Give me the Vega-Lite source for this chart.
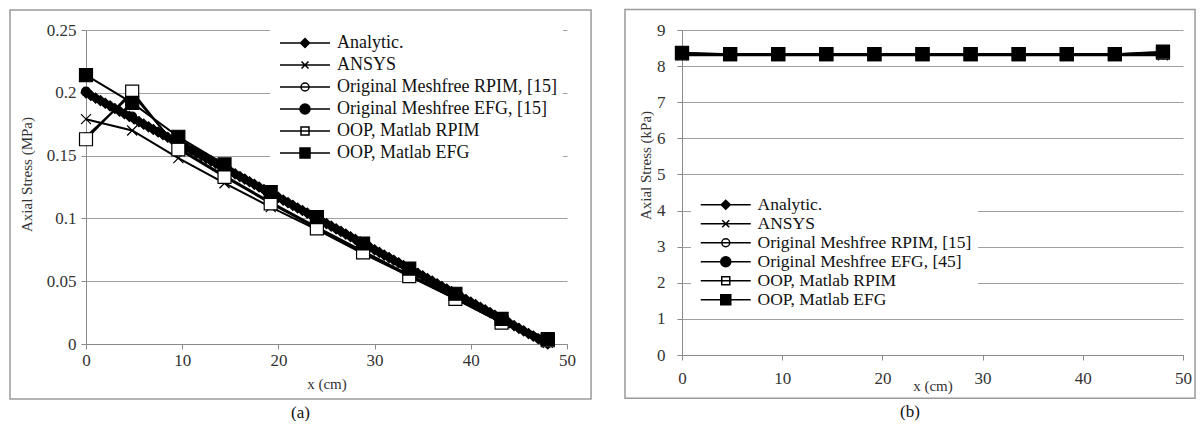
{
  "$schema": "https://vega.github.io/schema/vega-lite/v6.json",
  "background": "white",
  "padding": {"left": 9, "top": 8, "right": 5, "bottom": 0},
  "spacing": 32,
  "config": {
    "view": {"stroke": null},
    "font": "Liberation Serif",
    "axis": {
      "labelFont": "Liberation Serif", "titleFont": "Liberation Serif",
      "labelFontSize": 17, "titleFontSize": 15, "titleFontWeight": "normal",
      "labelColor": "#333333", "titleColor": "#333333",
      "domainColor": "#8a8a8a", "tickColor": "#8a8a8a", "gridColor": "#a0a0a0",
      "domainWidth": 1, "gridWidth": 1, "tickSize": 5, "labelPadding": 3,
      "labelFlush": false, "labelOverlap": false
    },
    "legend": {
      "labelFont": "Liberation Serif", "labelColor": "#111111", "labelLimit": 500,
      "fillColor": "white", "zindex": 3, "symbolSize": 100, "symbolOpacity": 1,
      "symbolOffset": 20, "labelOffset": 23
    }
  },
  "datasets": {
    "a": [
      {"s": "Analytic.", "x": 0, "y": 0.2}, {"s": "Analytic.", "x": 0.5, "y": 0.1979}, {"s": "Analytic.", "x": 1, "y": 0.1958}, {"s": "Analytic.", "x": 1.5, "y": 0.1938}, {"s": "Analytic.", "x": 2, "y": 0.1917}, {"s": "Analytic.", "x": 2.5, "y": 0.1896}, {"s": "Analytic.", "x": 3, "y": 0.1875}, {"s": "Analytic.", "x": 3.5, "y": 0.1854}, {"s": "Analytic.", "x": 4, "y": 0.1833}, {"s": "Analytic.", "x": 4.5, "y": 0.1813}, {"s": "Analytic.", "x": 5, "y": 0.1792}, {"s": "Analytic.", "x": 5.5, "y": 0.1771}, {"s": "Analytic.", "x": 6, "y": 0.175}, {"s": "Analytic.", "x": 6.5, "y": 0.1729}, {"s": "Analytic.", "x": 7, "y": 0.1708}, {"s": "Analytic.", "x": 7.5, "y": 0.1688}, {"s": "Analytic.", "x": 8, "y": 0.1667}, {"s": "Analytic.", "x": 8.5, "y": 0.1646}, {"s": "Analytic.", "x": 9, "y": 0.1625}, {"s": "Analytic.", "x": 9.5, "y": 0.1604}, {"s": "Analytic.", "x": 10, "y": 0.1583}, {"s": "Analytic.", "x": 10.5, "y": 0.1563}, {"s": "Analytic.", "x": 11, "y": 0.1542}, {"s": "Analytic.", "x": 11.5, "y": 0.1521}, {"s": "Analytic.", "x": 12, "y": 0.15}, {"s": "Analytic.", "x": 12.5, "y": 0.1479}, {"s": "Analytic.", "x": 13, "y": 0.1458}, {"s": "Analytic.", "x": 13.5, "y": 0.1438}, {"s": "Analytic.", "x": 14, "y": 0.1417}, {"s": "Analytic.", "x": 14.5, "y": 0.1396}, {"s": "Analytic.", "x": 15, "y": 0.1375}, {"s": "Analytic.", "x": 15.5, "y": 0.1354}, {"s": "Analytic.", "x": 16, "y": 0.1333}, {"s": "Analytic.", "x": 16.5, "y": 0.1313}, {"s": "Analytic.", "x": 17, "y": 0.1292}, {"s": "Analytic.", "x": 17.5, "y": 0.1271}, {"s": "Analytic.", "x": 18, "y": 0.125}, {"s": "Analytic.", "x": 18.5, "y": 0.1229}, {"s": "Analytic.", "x": 19, "y": 0.1208}, {"s": "Analytic.", "x": 19.5, "y": 0.1188}, {"s": "Analytic.", "x": 20, "y": 0.1167}, {"s": "Analytic.", "x": 20.5, "y": 0.1146}, {"s": "Analytic.", "x": 21, "y": 0.1125}, {"s": "Analytic.", "x": 21.5, "y": 0.1104}, {"s": "Analytic.", "x": 22, "y": 0.1083}, {"s": "Analytic.", "x": 22.5, "y": 0.1063}, {"s": "Analytic.", "x": 23, "y": 0.1042}, {"s": "Analytic.", "x": 23.5, "y": 0.1021}, {"s": "Analytic.", "x": 24, "y": 0.1}, {"s": "Analytic.", "x": 24.5, "y": 0.0979}, {"s": "Analytic.", "x": 25, "y": 0.0958}, {"s": "Analytic.", "x": 25.5, "y": 0.0938}, {"s": "Analytic.", "x": 26, "y": 0.0917}, {"s": "Analytic.", "x": 26.5, "y": 0.0896}, {"s": "Analytic.", "x": 27, "y": 0.0875}, {"s": "Analytic.", "x": 27.5, "y": 0.0854}, {"s": "Analytic.", "x": 28, "y": 0.0833}, {"s": "Analytic.", "x": 28.5, "y": 0.0813}, {"s": "Analytic.", "x": 29, "y": 0.0792}, {"s": "Analytic.", "x": 29.5, "y": 0.0771}, {"s": "Analytic.", "x": 30, "y": 0.075}, {"s": "Analytic.", "x": 30.5, "y": 0.0729}, {"s": "Analytic.", "x": 31, "y": 0.0708}, {"s": "Analytic.", "x": 31.5, "y": 0.0688}, {"s": "Analytic.", "x": 32, "y": 0.0667}, {"s": "Analytic.", "x": 32.5, "y": 0.0646}, {"s": "Analytic.", "x": 33, "y": 0.0625}, {"s": "Analytic.", "x": 33.5, "y": 0.0604}, {"s": "Analytic.", "x": 34, "y": 0.0583}, {"s": "Analytic.", "x": 34.5, "y": 0.0563}, {"s": "Analytic.", "x": 35, "y": 0.0542}, {"s": "Analytic.", "x": 35.5, "y": 0.0521}, {"s": "Analytic.", "x": 36, "y": 0.05}, {"s": "Analytic.", "x": 36.5, "y": 0.0479}, {"s": "Analytic.", "x": 37, "y": 0.0458}, {"s": "Analytic.", "x": 37.5, "y": 0.0438}, {"s": "Analytic.", "x": 38, "y": 0.0417}, {"s": "Analytic.", "x": 38.5, "y": 0.0396}, {"s": "Analytic.", "x": 39, "y": 0.0375}, {"s": "Analytic.", "x": 39.5, "y": 0.0354}, {"s": "Analytic.", "x": 40, "y": 0.0333}, {"s": "Analytic.", "x": 40.5, "y": 0.0313}, {"s": "Analytic.", "x": 41, "y": 0.0292}, {"s": "Analytic.", "x": 41.5, "y": 0.0271}, {"s": "Analytic.", "x": 42, "y": 0.025}, {"s": "Analytic.", "x": 42.5, "y": 0.0229}, {"s": "Analytic.", "x": 43, "y": 0.0208}, {"s": "Analytic.", "x": 43.5, "y": 0.0188}, {"s": "Analytic.", "x": 44, "y": 0.0167}, {"s": "Analytic.", "x": 44.5, "y": 0.0146}, {"s": "Analytic.", "x": 45, "y": 0.0125}, {"s": "Analytic.", "x": 45.5, "y": 0.0104}, {"s": "Analytic.", "x": 46, "y": 0.0083}, {"s": "Analytic.", "x": 46.5, "y": 0.0063}, {"s": "Analytic.", "x": 47, "y": 0.0042}, {"s": "Analytic.", "x": 47.5, "y": 0.0021}, {"s": "Analytic.", "x": 48, "y": 0.0},
      {"s": "ANSYS", "x": 0, "y": 0.179}, {"s": "ANSYS", "x": 4.8, "y": 0.17}, {"s": "ANSYS", "x": 9.6, "y": 0.148}, {"s": "ANSYS", "x": 14.4, "y": 0.128}, {"s": "ANSYS", "x": 19.2, "y": 0.109}, {"s": "ANSYS", "x": 24, "y": 0.091}, {"s": "ANSYS", "x": 28.8, "y": 0.072}, {"s": "ANSYS", "x": 33.6, "y": 0.054}, {"s": "ANSYS", "x": 38.4, "y": 0.036}, {"s": "ANSYS", "x": 43.2, "y": 0.017}, {"s": "ANSYS", "x": 48, "y": 0.001},
      {"s": "Original Meshfree RPIM, [15]", "x": 0, "y": 0.165}, {"s": "Original Meshfree RPIM, [15]", "x": 4.8, "y": 0.199}, {"s": "Original Meshfree RPIM, [15]", "x": 9.6, "y": 0.156}, {"s": "Original Meshfree RPIM, [15]", "x": 14.4, "y": 0.134}, {"s": "Original Meshfree RPIM, [15]", "x": 19.2, "y": 0.113}, {"s": "Original Meshfree RPIM, [15]", "x": 24, "y": 0.093}, {"s": "Original Meshfree RPIM, [15]", "x": 28.8, "y": 0.074}, {"s": "Original Meshfree RPIM, [15]", "x": 33.6, "y": 0.055}, {"s": "Original Meshfree RPIM, [15]", "x": 38.4, "y": 0.037}, {"s": "Original Meshfree RPIM, [15]", "x": 43.2, "y": 0.018}, {"s": "Original Meshfree RPIM, [15]", "x": 48, "y": 0.003},
      {"s": "Original Meshfree EFG, [15]", "x": 0, "y": 0.201}, {"s": "Original Meshfree EFG, [15]", "x": 4.8, "y": 0.181}, {"s": "Original Meshfree EFG, [15]", "x": 9.6, "y": 0.161}, {"s": "Original Meshfree EFG, [15]", "x": 14.4, "y": 0.141}, {"s": "Original Meshfree EFG, [15]", "x": 19.2, "y": 0.121}, {"s": "Original Meshfree EFG, [15]", "x": 24, "y": 0.101}, {"s": "Original Meshfree EFG, [15]", "x": 28.8, "y": 0.081}, {"s": "Original Meshfree EFG, [15]", "x": 33.6, "y": 0.061}, {"s": "Original Meshfree EFG, [15]", "x": 38.4, "y": 0.04}, {"s": "Original Meshfree EFG, [15]", "x": 43.2, "y": 0.02}, {"s": "Original Meshfree EFG, [15]", "x": 48, "y": 0.001},
      {"s": "OOP, Matlab RPIM", "x": 0, "y": 0.163}, {"s": "OOP, Matlab RPIM", "x": 4.8, "y": 0.201}, {"s": "OOP, Matlab RPIM", "x": 9.6, "y": 0.155}, {"s": "OOP, Matlab RPIM", "x": 14.4, "y": 0.133}, {"s": "OOP, Matlab RPIM", "x": 19.2, "y": 0.112}, {"s": "OOP, Matlab RPIM", "x": 24, "y": 0.092}, {"s": "OOP, Matlab RPIM", "x": 28.8, "y": 0.073}, {"s": "OOP, Matlab RPIM", "x": 33.6, "y": 0.054}, {"s": "OOP, Matlab RPIM", "x": 38.4, "y": 0.036}, {"s": "OOP, Matlab RPIM", "x": 43.2, "y": 0.017}, {"s": "OOP, Matlab RPIM", "x": 48, "y": 0.003},
      {"s": "OOP, Matlab EFG", "x": 0, "y": 0.214}, {"s": "OOP, Matlab EFG", "x": 4.8, "y": 0.192}, {"s": "OOP, Matlab EFG", "x": 9.6, "y": 0.165}, {"s": "OOP, Matlab EFG", "x": 14.4, "y": 0.143}, {"s": "OOP, Matlab EFG", "x": 19.2, "y": 0.121}, {"s": "OOP, Matlab EFG", "x": 24, "y": 0.101}, {"s": "OOP, Matlab EFG", "x": 28.8, "y": 0.08}, {"s": "OOP, Matlab EFG", "x": 33.6, "y": 0.06}, {"s": "OOP, Matlab EFG", "x": 38.4, "y": 0.04}, {"s": "OOP, Matlab EFG", "x": 43.2, "y": 0.02}, {"s": "OOP, Matlab EFG", "x": 48, "y": 0.004}
    ],
    "b": [
      {"s": "Analytic.", "x": 0, "y": 8.33}, {"s": "Analytic.", "x": 4.8, "y": 8.33}, {"s": "Analytic.", "x": 9.6, "y": 8.33}, {"s": "Analytic.", "x": 14.4, "y": 8.33}, {"s": "Analytic.", "x": 19.2, "y": 8.33}, {"s": "Analytic.", "x": 24, "y": 8.33}, {"s": "Analytic.", "x": 28.8, "y": 8.33}, {"s": "Analytic.", "x": 33.6, "y": 8.33}, {"s": "Analytic.", "x": 38.4, "y": 8.33}, {"s": "Analytic.", "x": 43.2, "y": 8.33}, {"s": "Analytic.", "x": 48, "y": 8.33},
      {"s": "ANSYS", "x": 0, "y": 8.3}, {"s": "ANSYS", "x": 4.8, "y": 8.3}, {"s": "ANSYS", "x": 9.6, "y": 8.3}, {"s": "ANSYS", "x": 14.4, "y": 8.3}, {"s": "ANSYS", "x": 19.2, "y": 8.3}, {"s": "ANSYS", "x": 24, "y": 8.3}, {"s": "ANSYS", "x": 28.8, "y": 8.3}, {"s": "ANSYS", "x": 33.6, "y": 8.3}, {"s": "ANSYS", "x": 38.4, "y": 8.3}, {"s": "ANSYS", "x": 43.2, "y": 8.3}, {"s": "ANSYS", "x": 48, "y": 8.3},
      {"s": "Original Meshfree RPIM, [15]", "x": 0, "y": 8.34}, {"s": "Original Meshfree RPIM, [15]", "x": 4.8, "y": 8.33}, {"s": "Original Meshfree RPIM, [15]", "x": 9.6, "y": 8.33}, {"s": "Original Meshfree RPIM, [15]", "x": 14.4, "y": 8.33}, {"s": "Original Meshfree RPIM, [15]", "x": 19.2, "y": 8.33}, {"s": "Original Meshfree RPIM, [15]", "x": 24, "y": 8.33}, {"s": "Original Meshfree RPIM, [15]", "x": 28.8, "y": 8.33}, {"s": "Original Meshfree RPIM, [15]", "x": 33.6, "y": 8.33}, {"s": "Original Meshfree RPIM, [15]", "x": 38.4, "y": 8.33}, {"s": "Original Meshfree RPIM, [15]", "x": 43.2, "y": 8.33}, {"s": "Original Meshfree RPIM, [15]", "x": 48, "y": 8.35},
      {"s": "Original Meshfree EFG, [45]", "x": 0, "y": 8.33}, {"s": "Original Meshfree EFG, [45]", "x": 4.8, "y": 8.33}, {"s": "Original Meshfree EFG, [45]", "x": 9.6, "y": 8.33}, {"s": "Original Meshfree EFG, [45]", "x": 14.4, "y": 8.33}, {"s": "Original Meshfree EFG, [45]", "x": 19.2, "y": 8.33}, {"s": "Original Meshfree EFG, [45]", "x": 24, "y": 8.33}, {"s": "Original Meshfree EFG, [45]", "x": 28.8, "y": 8.33}, {"s": "Original Meshfree EFG, [45]", "x": 33.6, "y": 8.33}, {"s": "Original Meshfree EFG, [45]", "x": 38.4, "y": 8.33}, {"s": "Original Meshfree EFG, [45]", "x": 43.2, "y": 8.33}, {"s": "Original Meshfree EFG, [45]", "x": 48, "y": 8.33},
      {"s": "OOP, Matlab RPIM", "x": 0, "y": 8.35}, {"s": "OOP, Matlab RPIM", "x": 4.8, "y": 8.33}, {"s": "OOP, Matlab RPIM", "x": 9.6, "y": 8.33}, {"s": "OOP, Matlab RPIM", "x": 14.4, "y": 8.33}, {"s": "OOP, Matlab RPIM", "x": 19.2, "y": 8.33}, {"s": "OOP, Matlab RPIM", "x": 24, "y": 8.33}, {"s": "OOP, Matlab RPIM", "x": 28.8, "y": 8.33}, {"s": "OOP, Matlab RPIM", "x": 33.6, "y": 8.33}, {"s": "OOP, Matlab RPIM", "x": 38.4, "y": 8.33}, {"s": "OOP, Matlab RPIM", "x": 43.2, "y": 8.33}, {"s": "OOP, Matlab RPIM", "x": 48, "y": 8.37},
      {"s": "OOP, Matlab EFG", "x": 0, "y": 8.37}, {"s": "OOP, Matlab EFG", "x": 4.8, "y": 8.33}, {"s": "OOP, Matlab EFG", "x": 9.6, "y": 8.33}, {"s": "OOP, Matlab EFG", "x": 14.4, "y": 8.33}, {"s": "OOP, Matlab EFG", "x": 19.2, "y": 8.33}, {"s": "OOP, Matlab EFG", "x": 24, "y": 8.33}, {"s": "OOP, Matlab EFG", "x": 28.8, "y": 8.33}, {"s": "OOP, Matlab EFG", "x": 33.6, "y": 8.33}, {"s": "OOP, Matlab EFG", "x": 38.4, "y": 8.33}, {"s": "OOP, Matlab EFG", "x": 43.2, "y": 8.33}, {"s": "OOP, Matlab EFG", "x": 48, "y": 8.4}
    ]
  },
  "hconcat": [
    {
      "title": {"text": "(a)", "orient": "bottom", "frame": "bounds", "anchor": "middle", "offset": 5, "font": "Liberation Serif", "fontSize": 17, "fontWeight": "normal", "color": "#111111"},
      "width": 481,
      "height": 314,
      "data": {"name": "a"},
      "layer": [
        {
          "data": {"values": [{}]},
          "mark": {"type": "rect", "fill": "transparent", "stroke": "#9a9a9a", "strokeWidth": 1.5},
          "encoding": {
            "x": {"datum": -7.9, "type": "quantitative", "scale": {"domain": [0, 50], "nice": false, "zero": false},
                  "axis": {"title": "x (cm)", "values": [0, 10, 20, 30, 40, 50], "grid": false, "titlePadding": 8}},
            "x2": {"datum": 52.5},
            "y": {"datum": 0.2659, "type": "quantitative", "scale": {"domain": [0, 0.25], "nice": false},
                  "axis": {"title": "Axial Stress (MPa)", "values": [0, 0.05, 0.1, 0.15, 0.2, 0.25], "format": "~g", "grid": true, "labelPadding": 5, "titlePadding": 12, "titleY": 144}},
            "y2": {"datum": -0.0438}
          }
        },
        {
          "mark": {"type": "line", "color": "black", "strokeWidth": 2},
          "encoding": {
            "x": {"field": "x", "type": "quantitative", "scale": {"domain": [0, 50], "nice": false, "zero": false},
                  "axis": {"title": "x (cm)", "values": [0, 10, 20, 30, 40, 50], "grid": false, "titlePadding": 8}},
            "y": {"field": "y", "type": "quantitative", "scale": {"domain": [0, 0.25], "nice": false},
                  "axis": {"title": "Axial Stress (MPa)", "values": [0, 0.05, 0.1, 0.15, 0.2, 0.25], "format": "~g", "grid": true, "labelPadding": 5, "titlePadding": 12, "titleY": 144}},
            "detail": {"field": "s", "type": "nominal"}
          }
        },
        {
          "mark": {"type": "point", "filled": true, "opacity": 1, "stroke": "black", "strokeWidth": 1.2},
          "encoding": {
            "x": {"field": "x", "type": "quantitative", "scale": {"domain": [0, 50], "nice": false, "zero": false},
                  "axis": {"title": "x (cm)", "values": [0, 10, 20, 30, 40, 50], "grid": false, "titlePadding": 8}},
            "y": {"field": "y", "type": "quantitative", "scale": {"domain": [0, 0.25], "nice": false},
                  "axis": {"title": "Axial Stress (MPa)", "values": [0, 0.05, 0.1, 0.15, 0.2, 0.25], "format": "~g", "grid": true, "labelPadding": 5, "titlePadding": 12, "titleY": 144}},
            "shape": {"condition": [
                {"test": "datum.s === 'Analytic.'", "value": "diamond"},
                {"test": "datum.s === 'ANSYS'", "value": "M-1,-1L1,1M-1,1L1,-1"},
                {"test": "indexof(datum.s, 'Original') === 0", "value": "circle"}
              ], "value": "square"},
            "fill": {"condition": {"test": "indexof(datum.s, 'RPIM') >= 0", "value": "white"}, "value": "black"},
            "size": {"condition": [
                {"test": "indexof(datum.s, 'OOP') === 0", "value": 169},
                {"test": "indexof(datum.s, 'Original Meshfree RPIM') === 0", "value": 64},
                {"test": "indexof(datum.s, 'Original Meshfree EFG') === 0", "value": 81}
              ], "value": 100}
          }
        },
        {
          "mark": {"type": "point", "filled": true, "stroke": "black", "strokeWidth": 2},
          "encoding": {
            "x": {"field": "x", "type": "quantitative", "scale": {"domain": [0, 50], "nice": false, "zero": false},
                  "axis": {"title": "x (cm)", "values": [0, 10, 20, 30, 40, 50], "grid": false, "titlePadding": 8}},
            "y": {"field": "y", "type": "quantitative", "scale": {"domain": [0, 0.25], "nice": false},
                  "axis": {"title": "Axial Stress (MPa)", "values": [0, 0.05, 0.1, 0.15, 0.2, 0.25], "format": "~g", "grid": true, "labelPadding": 5, "titlePadding": 12, "titleY": 144}},
            "opacity": {"value": 0},
            "shape": {"field": "s", "type": "nominal",
              "scale": {"domain": ["Analytic.", "ANSYS", "Original Meshfree RPIM, [15]", "Original Meshfree EFG, [15]", "OOP, Matlab RPIM", "OOP, Matlab EFG"],
                        "range": ["M-5,0H5M0,-0.9L0.9,0L0,0.9L-0.9,0Z", "M-5,0H5M-0.7,-0.7L0.7,0.7M-0.7,0.7L0.7,-0.7", "M-5,0H5M-0.8,0A0.8,0.8,0,1,1,0.8,0A0.8,0.8,0,1,1,-0.8,0Z", "M-5,0H5M-1,0A1,1,0,1,1,1,0A1,1,0,1,1,-1,0Z", "M-5,0H5M-0.8,-0.8H0.8V0.8H-0.8Z", "M-5,0H5M-1,-1H1V1H-1Z"]},
              "legend": {"title": null, "orient": "none", "legendX": 184, "legendY": -2, "padding": 6, "rowPadding": 4, "labelFontSize": 18}},
            "fill": {"field": "s", "type": "nominal",
              "scale": {"domain": ["Analytic.", "ANSYS", "Original Meshfree RPIM, [15]", "Original Meshfree EFG, [15]", "OOP, Matlab RPIM", "OOP, Matlab EFG"],
                        "range": ["black", "white", "white", "black", "white", "black"]},
              "legend": {"title": null, "orient": "none", "legendX": 184, "legendY": -2, "padding": 6, "rowPadding": 4, "labelFontSize": 18}}
          }
        }
      ]
    },
    {
      "title": {"text": "(b)", "orient": "bottom", "frame": "bounds", "anchor": "middle", "offset": 5, "font": "Liberation Serif", "fontSize": 17, "fontWeight": "normal", "color": "#111111"},
      "width": 501,
      "height": 325,
      "data": {"name": "b"},
      "layer": [
        {
          "data": {"values": [{}]},
          "mark": {"type": "rect", "fill": "transparent", "stroke": "#9a9a9a", "strokeWidth": 1.5},
          "encoding": {
            "x": {"datum": -5.69, "type": "quantitative", "scale": {"domain": [0, 50], "nice": false, "zero": false},
                  "axis": {"title": "x (cm)", "values": [0, 10, 20, 30, 40, 50], "grid": false, "labelPadding": 10, "titlePadding": -8}},
            "x2": {"datum": 51.2},
            "y": {"datum": 9.57, "type": "quantitative", "scale": {"domain": [0, 9], "nice": false},
                  "axis": {"title": "Axial Stress (kPa)", "values": [0, 1, 2, 3, 4, 5, 6, 7, 8, 9], "grid": true, "labelPadding": 12, "titlePadding": 3, "titleY": 135}},
            "y2": {"datum": -1.2}
          }
        },
        {
          "mark": {"type": "line", "color": "black", "strokeWidth": 2},
          "encoding": {
            "x": {"field": "x", "type": "quantitative", "scale": {"domain": [0, 50], "nice": false, "zero": false},
                  "axis": {"title": "x (cm)", "values": [0, 10, 20, 30, 40, 50], "grid": false, "labelPadding": 10, "titlePadding": -8}},
            "y": {"field": "y", "type": "quantitative", "scale": {"domain": [0, 9], "nice": false},
                  "axis": {"title": "Axial Stress (kPa)", "values": [0, 1, 2, 3, 4, 5, 6, 7, 8, 9], "grid": true, "labelPadding": 12, "titlePadding": 3, "titleY": 135}},
            "detail": {"field": "s", "type": "nominal"}
          }
        },
        {
          "mark": {"type": "point", "filled": true, "opacity": 1, "stroke": "black", "strokeWidth": 1.2},
          "encoding": {
            "x": {"field": "x", "type": "quantitative", "scale": {"domain": [0, 50], "nice": false, "zero": false},
                  "axis": {"title": "x (cm)", "values": [0, 10, 20, 30, 40, 50], "grid": false, "labelPadding": 10, "titlePadding": -8}},
            "y": {"field": "y", "type": "quantitative", "scale": {"domain": [0, 9], "nice": false},
                  "axis": {"title": "Axial Stress (kPa)", "values": [0, 1, 2, 3, 4, 5, 6, 7, 8, 9], "grid": true, "labelPadding": 12, "titlePadding": 3, "titleY": 135}},
            "shape": {"condition": [
                {"test": "datum.s === 'Analytic.'", "value": "diamond"},
                {"test": "datum.s === 'ANSYS'", "value": "M-1,-1L1,1M-1,1L1,-1"},
                {"test": "indexof(datum.s, 'Original') === 0", "value": "circle"}
              ], "value": "square"},
            "fill": {"condition": {"test": "indexof(datum.s, 'RPIM') >= 0", "value": "white"}, "value": "black"},
            "size": {"condition": [
                {"test": "indexof(datum.s, 'OOP') === 0", "value": 169},
                {"test": "indexof(datum.s, 'Original Meshfree RPIM') === 0", "value": 64},
                {"test": "indexof(datum.s, 'Original Meshfree EFG') === 0", "value": 81}
              ], "value": 100}
          }
        },
        {
          "mark": {"type": "point", "filled": true, "stroke": "black", "strokeWidth": 2},
          "encoding": {
            "x": {"field": "x", "type": "quantitative", "scale": {"domain": [0, 50], "nice": false, "zero": false},
                  "axis": {"title": "x (cm)", "values": [0, 10, 20, 30, 40, 50], "grid": false, "labelPadding": 10, "titlePadding": -8}},
            "y": {"field": "y", "type": "quantitative", "scale": {"domain": [0, 9], "nice": false},
                  "axis": {"title": "Axial Stress (kPa)", "values": [0, 1, 2, 3, 4, 5, 6, 7, 8, 9], "grid": true, "labelPadding": 12, "titlePadding": 3, "titleY": 135}},
            "opacity": {"value": 0},
            "shape": {"field": "s", "type": "nominal",
              "scale": {"domain": ["Analytic.", "ANSYS", "Original Meshfree RPIM, [15]", "Original Meshfree EFG, [45]", "OOP, Matlab RPIM", "OOP, Matlab EFG"],
                        "range": ["M-5,0H5M0,-0.9L0.9,0L0,0.9L-0.9,0Z", "M-5,0H5M-0.7,-0.7L0.7,0.7M-0.7,0.7L0.7,-0.7", "M-5,0H5M-0.8,0A0.8,0.8,0,1,1,0.8,0A0.8,0.8,0,1,1,-0.8,0Z", "M-5,0H5M-1,0A1,1,0,1,1,1,0A1,1,0,1,1,-1,0Z", "M-5,0H5M-0.8,-0.8H0.8V0.8H-0.8Z", "M-5,0H5M-1,-1H1V1H-1Z"]},
              "legend": {"title": null, "orient": "none", "legendX": 9, "legendY": 160, "padding": 6, "rowPadding": 0, "labelFontSize": 17.5}},
            "fill": {"field": "s", "type": "nominal",
              "scale": {"domain": ["Analytic.", "ANSYS", "Original Meshfree RPIM, [15]", "Original Meshfree EFG, [45]", "OOP, Matlab RPIM", "OOP, Matlab EFG"],
                        "range": ["black", "white", "white", "black", "white", "black"]},
              "legend": {"title": null, "orient": "none", "legendX": 9, "legendY": 160, "padding": 6, "rowPadding": 0, "labelFontSize": 17.5}}
          }
        }
      ]
    }
  ],
  "resolve": {
    "scale": {"x": "independent", "y": "independent", "shape": "independent", "fill": "independent"},
    "legend": {"shape": "independent", "fill": "independent"}
  }
}
